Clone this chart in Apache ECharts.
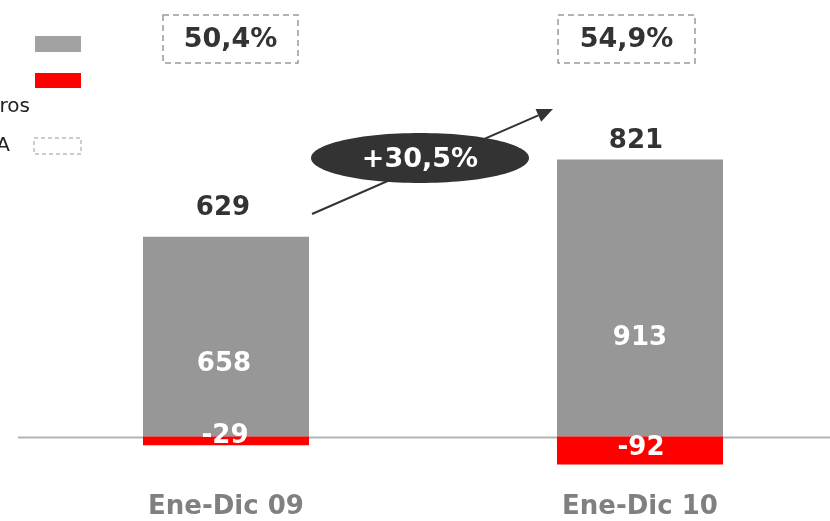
<!DOCTYPE html>
<html>
<head>
<meta charset="utf-8">
<script src="https://cdn.jsdelivr.net/npm/echarts@6/dist/echarts.min.js"></script>
<style>
  html, body { margin: 0; padding: 0; background: #ffffff; }
  #chart { width: 830px; height: 521px; }
</style>
</head>
<body>
<div id="chart"></div>
<script>
// Periods and values (millones de euros)
const categories = ['Ene-Dic 09', 'Ene-Dic 10'];
const ebitdaValues = [658, 913];
const otrosValues = [-29, -92];
const totalValues = [629, 821];
const marginLabels = ['50,4%', '54,9%'];
const growthLabel = '+30,5%';

const FONT = 'DejaVu Sans';
const GRAY = '#979797';
const RED = '#ff0000';
const DARK = '#333333';

// per-bar label nudges
const ebitdaLabelOffsets = [[-2, 28], [0, 40]];
const otrosLabelOffsets = [[-1, -5], [1, -2]];
const totalLabelOffsets = [[-3, -37], [-4, -46]];

const chart = echarts.init(document.getElementById('chart'), null, { renderer: 'canvas' });

// Grid bottom is the zero line; categories sit on the grid edges
// (boundaryGap: false) and the bars are not clipped, so negative parts
// hang below the grid.
const option = {
  animation: false,
  backgroundColor: '#ffffff',
  grid: {
    left: 226, top: 133, width: 414, height: 303.5,
    containLabel: false
  },
  xAxis: {
    type: 'category',
    data: categories,
    boundaryGap: false,
    axisLine: { show: false },
    axisTick: { show: false },
    splitLine: { show: false },
    axisLabel: {
      margin: 61,
      lineHeight: 20,
      color: '#808080',
      fontFamily: FONT,
      fontWeight: 'bold',
      fontSize: 26
    }
  },
  yAxis: {
    type: 'value',
    min: 0,
    max: 1000,
    show: false,
    splitLine: { show: false }
  },
  series: [
    {
      name: 'EBITDA',
      type: 'bar',
      stack: 'total',
      barWidth: 166,
      clip: false,
      itemStyle: { color: GRAY },
      data: ebitdaValues.map((v, i) => ({
        value: v,
        label: { offset: ebitdaLabelOffsets[i] }
      })),
      label: {
        show: true,
        position: 'inside',
        color: '#ffffff',
        fontFamily: FONT,
        fontWeight: 'bold',
        fontSize: 26
      },
      z: 2
    },
    {
      name: 'Otros',
      type: 'bar',
      stack: 'total',
      barWidth: 166,
      clip: false,
      itemStyle: { color: RED },
      data: otrosValues.map((v, i) => ({
        value: v,
        label: { offset: otrosLabelOffsets[i] }
      })),
      label: {
        show: true,
        position: 'inside',
        color: '#ffffff',
        fontFamily: FONT,
        fontWeight: 'bold',
        fontSize: 26
      },
      z: 3
    },
    {
      name: 'Total',
      type: 'scatter',
      symbolSize: 0,
      clip: false,
      itemStyle: { opacity: 1, color: DARK },
      data: totalValues.map((v, i) => ({
        value: v,
        label: { offset: totalLabelOffsets[i] }
      })),
      label: {
        show: true,
        position: 'inside',
        color: DARK,
        opacity: 1,
        fontFamily: FONT,
        fontWeight: 'bold',
        fontSize: 26
      },
      z: 4
    }
  ]
};

chart.setOption(option);

// decorations: zero line across the full width, margin boxes, growth arrow, legend
const zeroY = Math.round(chart.convertToPixel({ yAxisIndex: 0 }, 0)) + 0.5;
const graphics = [];

graphics.push({
  type: 'line',
  z: -10,
  shape: { x1: 18, y1: zeroY, x2: 830, y2: zeroY },
  style: { stroke: '#b4b4b4', lineWidth: 2 }
});

const marginBoxes = [
  { x: 163, y: 15, w: 135, h: 48 },
  { x: 558, y: 15, w: 137, h: 48 }
];
marginBoxes.forEach((b, i) => {
  graphics.push({
    type: 'rect',
    shape: { x: b.x, y: b.y, width: b.w, height: b.h },
    style: { fill: 'none', stroke: '#9a9a9a', lineWidth: 1.5, lineDash: [6, 4] }
  });
  graphics.push({
    type: 'text',
    x: b.x + b.w / 2,
    y: b.y + b.h / 2 + 1,
    style: {
      text: marginLabels[i],
      fill: DARK,
      font: 'bold 27px "' + FONT + '"',
      align: 'center',
      verticalAlign: 'middle'
    }
  });
});

const arrowStart = [312, 214];
const arrowTip = [553, 109];
const dx = arrowTip[0] - arrowStart[0], dy = arrowTip[1] - arrowStart[1];
const len = Math.sqrt(dx * dx + dy * dy);
const ux = dx / len, uy = dy / len;
const headLen = 16, headHalf = 7;
const base = [arrowTip[0] - ux * headLen, arrowTip[1] - uy * headLen];
graphics.push({
  type: 'line',
  shape: { x1: arrowStart[0], y1: arrowStart[1], x2: base[0], y2: base[1] },
  style: { stroke: DARK, lineWidth: 2 }
});
graphics.push({
  type: 'polygon',
  shape: {
    points: [
      arrowTip,
      [base[0] - uy * headHalf, base[1] + ux * headHalf],
      [base[0] + uy * headHalf, base[1] - ux * headHalf]
    ]
  },
  style: { fill: DARK }
});
graphics.push({
  type: 'ellipse',
  shape: { cx: 420, cy: 158, rx: 109, ry: 25 },
  style: { fill: DARK }
});
graphics.push({
  type: 'text',
  x: 420,
  y: 160,
  style: {
    text: growthLabel,
    fill: '#ffffff',
    font: 'bold 27px "' + FONT + '"',
    align: 'center',
    verticalAlign: 'middle'
  }
});

graphics.push(
  { type: 'rect', shape: { x: 35, y: 36, width: 46, height: 16 }, style: { fill: '#a2a2a2' } },
  { type: 'rect', shape: { x: 35, y: 73, width: 46, height: 15 }, style: { fill: RED } },
  {
    type: 'text', x: 30, y: 107,
    style: { text: 'Otros', fill: '#222222', font: '20px "' + FONT + '"', align: 'right', verticalAlign: 'middle' }
  },
  {
    type: 'text', x: 10, y: 146,
    style: { text: 'Margen EBITDA', fill: '#222222', font: '20px "' + FONT + '"', align: 'right', verticalAlign: 'middle' }
  },
  {
    type: 'rect', shape: { x: 34, y: 138, width: 47, height: 16 },
    style: { fill: 'none', stroke: '#9a9a9a', lineWidth: 1, lineDash: [4, 3] }
  }
);

chart.setOption({ graphic: graphics });
</script>
</body>
</html>
